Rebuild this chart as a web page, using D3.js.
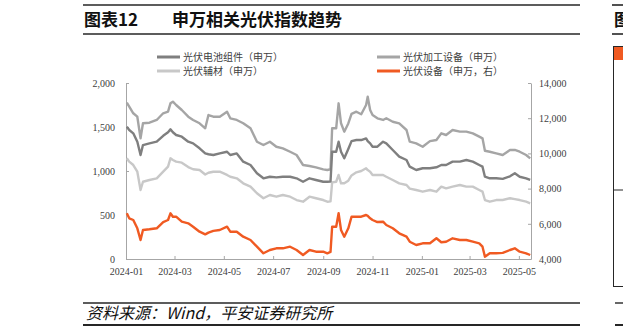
<!DOCTYPE html>
<html><head><meta charset="utf-8">
<script src="https://cdn.jsdelivr.net/npm/d3@7"></script>
<style>
html,body{margin:0;padding:0;background:#fff;}
svg{display:block;}
</style></head>
<body>
<svg id="c" width="623" height="334"></svg>
<script>
// ---- data ----
const dates = ["2024-01-02","2024-01-05","2024-01-10","2024-01-15","2024-01-19","2024-01-22","2024-01-30","2024-02-08","2024-02-16","2024-02-22",
"2024-02-25","2024-02-28","2024-03-03","2024-03-10","2024-03-18","2024-03-24","2024-04-01","2024-04-08","2024-04-12","2024-04-18",
"2024-04-26","2024-05-05","2024-05-09","2024-05-17","2024-05-25","2024-06-03","2024-06-11","2024-06-19","2024-06-27","2024-07-05",
"2024-07-13","2024-07-22","2024-07-30","2024-08-07","2024-08-15","2024-08-23","2024-09-01","2024-09-06","2024-09-10","2024-09-12",
"2024-09-17","2024-09-20","2024-09-23","2024-09-27","2024-10-02","2024-10-06","2024-10-12","2024-10-18","2024-10-24","2024-10-26",
"2024-10-29","2024-11-01","2024-11-07","2024-11-14","2024-11-18","2024-11-26","2024-12-04","2024-12-13","2024-12-17","2024-12-25",
"2025-01-02","2025-01-11","2025-01-19","2025-01-25","2025-01-31","2025-02-08","2025-02-17","2025-02-25","2025-03-05","2025-03-13",
"2025-03-17","2025-03-20","2025-03-26","2025-04-03","2025-04-11","2025-04-20","2025-04-26","2025-05-02","2025-05-10","2025-05-15"];
// 光伏电池组件（申万）
const batteryModule = [1503,1466,1428,1333,1182,1295,1314,1333,1400,1440,
1473,1440,1409,1390,1333,1314,1258,1200,1190,1182,
1201,1219,1182,1200,1106,1068,974,917,935,928,
935,935,917,878,917,898,878,878,880,1219,
1219,1333,1219,1144,1250,1340,1352,1352,1371,1340,
1314,1276,1276,1333,1314,1239,1163,1125,1049,1011,
1031,1031,1042,1068,1068,1106,1106,1125,1106,1068,
1049,935,917,917,910,940,974,935,917,898];
// 光伏加工设备（申万）
const processingEquip = [1776,1731,1656,1617,1371,1542,1549,1580,1656,1674,
1769,1788,1750,1693,1617,1580,1542,1485,1636,1617,
1617,1674,1599,1580,1542,1485,1333,1295,1333,1276,
1258,1219,1182,1068,1057,1042,1019,1011,1020,1485,
1485,1769,1542,1447,1540,1650,1674,1645,1750,1844,
1693,1636,1599,1580,1599,1560,1542,1466,1333,1314,
1276,1340,1352,1428,1409,1466,1447,1447,1428,1390,
1371,1230,1219,1201,1182,1239,1239,1219,1182,1144];
// 光伏辅材（申万）
const auxMaterials = [1144,1106,1068,992,784,878,898,917,992,1049,
1144,1125,1106,1095,1045,1020,1011,960,980,992,
992,955,935,917,860,822,747,690,727,708,
727,708,670,651,708,690,670,651,655,870,
878,955,860,860,890,950,985,1000,1031,1010,
992,955,955,955,935,898,860,841,800,784,
765,784,765,822,803,822,841,822,822,784,
765,670,651,670,670,690,680,670,651,633];
// 光伏设备（申万，右）
const pvEquip = [6597,6313,6216,5744,5080,5648,5688,5744,6100,6216,
6597,6403,6403,6119,6028,5835,5551,5400,5500,5600,
5648,5835,5551,5551,5267,5080,4699,4324,4511,4608,
4608,4699,4511,4227,4511,4415,4415,4324,4400,5835,
5835,6597,5648,5267,5744,6403,6403,6403,6500,6450,
6313,6216,6100,6119,5932,5744,5460,5267,4983,4795,
4892,4892,5176,4950,4983,5176,5080,5080,4983,4892,
4699,4131,4324,4324,4350,4511,4608,4415,4324,4227];
const leftTicks = [0,500,1000,1500,2000];
const rightTicks = [4000,6000,8000,10000,12000,14000];
const xTickDates = ["2024-01-01","2024-03-01","2024-05-01","2024-07-01","2024-09-01","2024-11-01","2025-01-01","2025-03-01","2025-05-01"];
const seriesNames = ["光伏电池组件（申万）","光伏加工设备（申万）","光伏辅材（申万）","光伏设备（申万，右）"];
const seriesColors = ["#7f7f7f","#a5a5a5","#c8c8c8","#f05a22"];
const titleText = "图表12";
const titleText2 = "申万相关光伏指数趋势";
const sourceText = "资料来源：Wind，平安证券研究所";

// ---- drawing ----
const svg = d3.select("#c");
const parse = d3.utcParse("%Y-%m-%d");
const X = dates.map(parse);
const x = d3.scaleUtc().domain([parse("2024-01-01"), parse("2025-05-16")]).range([126, 531]);
const yL = d3.scaleLinear().domain([0, 2000]).range([259, 83]);
const yR = d3.scaleLinear().domain([4000, 14000]).range([259, 83]);

const dark = "#262626";
// title block
svg.append("line").attr("x1",83).attr("x2",580).attr("y1",5).attr("y2",5).attr("stroke",dark).attr("stroke-width",1.6);
svg.append("line").attr("x1",83).attr("x2",580).attr("y1",34).attr("y2",34).attr("stroke",dark).attr("stroke-width",1.6);
svg.append("text").attr("x",84).attr("y",26).attr("font-family","'Noto Sans CJK SC',sans-serif").attr("font-weight","bold")
  .attr("font-size",17).attr("fill","#111").text(titleText);
svg.append("text").attr("x",172).attr("y",26).attr("font-family","'Noto Sans CJK SC',sans-serif").attr("font-weight","bold")
  .attr("font-size",17).attr("fill","#111").text(titleText2);
// footer
svg.append("line").attr("x1",83).attr("x2",580).attr("y1",303).attr("y2",303).attr("stroke",dark).attr("stroke-width",1.4);
svg.append("line").attr("x1",83).attr("x2",580).attr("y1",325).attr("y2",325).attr("stroke",dark).attr("stroke-width",2);
svg.append("text").attr("x",86).attr("y",319).attr("font-family","'Noto Sans CJK SC',sans-serif").attr("font-style","italic")
  .attr("font-size",16).attr("fill","#111").text(sourceText);

// neighbouring (cut-off) chart at right edge
svg.append("line").attr("x1",612).attr("x2",623).attr("y1",5).attr("y2",5).attr("stroke",dark).attr("stroke-width",1.6);
svg.append("line").attr("x1",612).attr("x2",623).attr("y1",34).attr("y2",34).attr("stroke",dark).attr("stroke-width",1.6);
svg.append("text").attr("x",614).attr("y",26).attr("font-family","'Noto Sans CJK SC',sans-serif").attr("font-weight","bold")
  .attr("font-size",17).attr("fill","#111").text("图");
svg.append("rect").attr("x",613.5).attr("y",46.5).attr("width",20).attr("height",240).attr("fill","none").attr("stroke",dark).attr("stroke-width",1);
svg.append("rect").attr("x",614).attr("y",47).attr("width",10).attr("height",13).attr("fill","#f05a22");
svg.append("line").attr("x1",613).attr("x2",623).attr("y1",190).attr("y2",190).attr("stroke",dark).attr("stroke-width",1);
svg.append("line").attr("x1",615).attr("x2",623).attr("y1",303).attr("y2",303).attr("stroke",dark).attr("stroke-width",1.4);
svg.append("line").attr("x1",615).attr("x2",623).attr("y1",325).attr("y2",325).attr("stroke",dark).attr("stroke-width",2);

// axes
const axisColor = "#a6a6a6";
const labelFont = "'Liberation Serif','Times New Roman',serif";
function styleAxis(g){
  g.selectAll("path,line").attr("stroke",axisColor);
  g.selectAll("text").attr("font-family",labelFont).attr("font-size",10).attr("fill","#404040");
}
svg.append("g").attr("transform","translate(126,0)")
  .call(d3.axisLeft(yL).tickValues(leftTicks).tickFormat(d3.format(",")).tickSizeInner(-3).tickSizeOuter(0).tickPadding(11))
  .call(styleAxis);
svg.append("g").attr("transform","translate(531,0)")
  .call(d3.axisRight(yR).tickValues(rightTicks).tickFormat(d3.format(",")).tickSizeInner(-3).tickSizeOuter(0).tickPadding(8))
  .call(styleAxis);
svg.append("g").attr("transform","translate(0,259)")
  .call(d3.axisBottom(x).tickValues(xTickDates.map(parse)).tickFormat(d3.utcFormat("%Y-%m")).tickSizeInner(-3).tickSizeOuter(0).tickPadding(9))
  .call(styleAxis);

// lines
const allSeries = [
  {vals: batteryModule, y: yL},
  {vals: processingEquip, y: yL},
  {vals: auxMaterials, y: yL},
  {vals: pvEquip, y: yR}
];
const drawOrder = [2,1,0,3];
drawOrder.forEach(i => {
  const s = allSeries[i];
  const line = d3.line().x((d,j)=>x(X[j])).y(d=>s.y(d));
  svg.append("path").datum(s.vals).attr("d",line).attr("fill","none")
    .attr("stroke",seriesColors[i]).attr("stroke-width",2.4).attr("stroke-linejoin","round");
});

// legend
const legPos = [[157,57],[377,57],[157,71],[377,71]];
seriesNames.forEach((n,i)=>{
  const [lx,ly] = legPos[i];
  svg.append("line").attr("x1",lx).attr("x2",lx+23).attr("y1",ly).attr("y2",ly).attr("stroke",seriesColors[i]).attr("stroke-width",3);
  svg.append("text").attr("x",lx+26).attr("y",ly+3.5).attr("font-family","'Noto Sans CJK SC',sans-serif")
    .attr("font-size",10).attr("fill","#404040").text(n);
});
</script>
</body></html>
